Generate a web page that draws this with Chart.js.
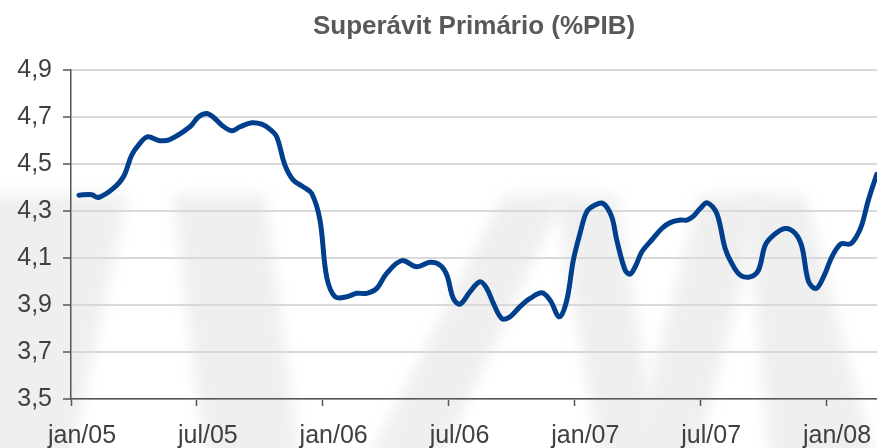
<!DOCTYPE html>
<html lang="pt-BR">
<head>
<meta charset="utf-8">
<title>Superávit Primário (%PIB)</title>
<script src="https://cdn.jsdelivr.net/npm/chart.js@4.4.1/dist/chart.umd.min.js"></script>
<style>
    html, body { margin: 0; padding: 0; background: #ffffff; }
    #wrap { position: relative; width: 877px; height: 448px; }
</style>
</head>
<body>
<div id="wrap"><canvas id="superavitChart"></canvas></div>
<script>
// 横軸: jan/05 からの経過月数
const months = [
    0.38, 0.99, 1.3, 2.02, 2.5, 2.89, 3.21, 3.64, 4.24, 4.72,
    5.67, 6.07, 6.47, 6.79, 7.19, 7.66, 8.06, 8.62, 9.09, 9.49,
    9.81, 10.2, 10.6, 11.08, 11.48, 11.87, 12.19, 12.59, 13.15, 13.62,
    14.1, 14.58, 15.05, 15.77, 16.49, 17.12, 17.6, 17.92, 18.23, 18.55,
    19.03, 19.5, 19.82, 20.14, 20.54, 20.93, 21.41, 21.89, 22.45, 22.84,
    23.29, 23.64, 23.95, 24.27, 24.59, 24.99, 25.38, 25.78, 26.02, 26.42,
    26.66, 26.9, 27.22, 27.69, 28.17, 28.57, 29.05, 29.36, 29.68, 30.0,
    30.34, 30.79, 31.19, 31.51, 31.9, 32.38, 32.78, 33.1, 33.5, 34.05,
    34.53, 34.85, 35.17, 35.53, 35.88, 36.28, 36.7, 37.15, 37.44, 37.7,
    38.02, 38.42
];

// 超過プライマリー収支 (%PIB)
const superavit = [
    4.368, 4.37, 4.358, 4.397, 4.446, 4.538, 4.58, 4.616, 4.60, 4.605,
    4.659, 4.701, 4.716, 4.70, 4.666, 4.642, 4.659, 4.676, 4.67, 4.648,
    4.616, 4.496, 4.432, 4.403, 4.375, 4.262, 4.02, 3.935, 3.935, 3.95,
    3.95, 3.971, 4.035, 4.089, 4.063, 4.082, 4.07, 4.028, 3.928, 3.904,
    3.957, 3.999, 3.971, 3.907, 3.843, 3.85, 3.893, 3.928, 3.952, 3.921,
    3.85, 3.921, 4.091, 4.205, 4.297, 4.326, 4.332, 4.276, 4.177, 4.049,
    4.032, 4.063, 4.127, 4.177, 4.226, 4.251, 4.262, 4.262, 4.279, 4.311,
    4.335, 4.29, 4.141, 4.077, 4.028, 4.02, 4.049, 4.155, 4.198, 4.226,
    4.205, 4.148, 3.999, 3.971, 4.02, 4.105, 4.16, 4.16, 4.19, 4.24,
    4.347, 4.457
];

// 目盛りラベル (6か月ごと)
const xTickLabels = ['jan/05', 'jul/05', 'jan/06', 'jul/06', 'jan/07', 'jul/07', 'jan/08'];

// 背景の薄いロゴ(透かし)
const watermark = {
    id: 'watermark',
    beforeDraw(chart) {
        const ctx = chart.ctx;
        const shapes = [
            [[-20, 195], [128, 195], [70, 460], [-20, 460]],
            [[173, 195], [265, 195], [300, 460], [205, 460]],
            [[503, 195], [565, 195], [440, 460], [368, 460]],
            [[555, 195], [617, 195], [660, 460], [600, 460]],
            [[700, 195], [765, 195], [695, 460], [630, 460]],
            [[745, 195], [805, 195], [875, 460], [770, 460]]
        ];
        ctx.save();
        ctx.filter = 'blur(7px)';
        ctx.fillStyle = '#efefef';
        shapes.forEach(function(s) {
            ctx.beginPath();
            ctx.moveTo(s[0][0], s[0][1]);
            for (let i = 1; i < s.length; i++) ctx.lineTo(s[i][0], s[i][1]);
            ctx.closePath();
            ctx.fill();
        });
        ctx.restore();
    }
};

const points = months.map(function(m, i) {
    return { x: m, y: superavit[i] };
});

const ctx = document.getElementById('superavitChart').getContext('2d');
new Chart(ctx, {
    type: 'line',
    data: {
        datasets: [{
            data: points,
            borderColor: '#003f8c',
            borderWidth: 5,
            pointRadius: 0,
            tension: 0.35,
            borderCapStyle: 'round',
            borderJoinStyle: 'round',
            fill: false
        }]
    },
    options: {
        responsive: true,
        maintainAspectRatio: false,
        animation: false,
        layout: { padding: 0 },
        plugins: {
            legend: { display: false },
            tooltip: { enabled: false },
            title: {
                display: true,
                text: 'Superávit Primário (%PIB)',
                fullSize: false,
                color: '#595959',
                font: { family: '"Liberation Sans", Arial, sans-serif', size: 26, weight: 'bold' },
                padding: { top: 11, bottom: 28 }
            }
        },
        scales: {
            x: {
                type: 'linear',
                min: 0,
                max: 38.43,
                border: { display: true, color: '#555555', width: 1.5 },
                grid: {
                    drawOnChartArea: false,
                    drawTicks: true,
                    tickLength: 7,
                    tickColor: '#555555',
                    tickWidth: 1.5
                },
                ticks: {
                    stepSize: 6,
                    includeBounds: false,
                    autoSkip: false,
                    maxRotation: 0,
                    labelOffset: 11,
                    padding: 15,
                    color: '#404040',
                    font: { family: '"Liberation Sans", Arial, sans-serif', size: 25 },
                    callback: function(value) {
                        return xTickLabels[Math.round(value / 6)] || '';
                    }
                },
                afterFit: function(scale) { scale.height = 49; }
            },
            y: {
                min: 3.5,
                max: 4.9,
                border: { display: true, color: '#555555', width: 1.5 },
                grid: {
                    color: '#d9d9d9',
                    lineWidth: 2,
                    tickLength: 8,
                    tickColor: '#555555',
                    tickWidth: 1.5
                },
                ticks: {
                    stepSize: 0.2,
                    padding: 11,
                    color: '#404040',
                    font: { family: '"Liberation Sans", Arial, sans-serif', size: 25 },
                    callback: function(value) {
                        return value.toFixed(1).replace('.', ',');
                    }
                },
                afterFit: function(scale) { scale.width = 71; }
            }
        }
    },
    plugins: [watermark]
});
</script>
</body>
</html>
